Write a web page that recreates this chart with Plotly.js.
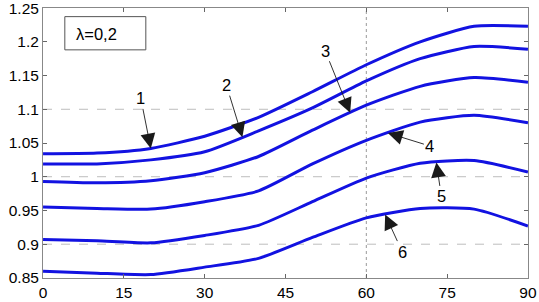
<!DOCTYPE html>
<html>
<head>
<meta charset="utf-8">
<script src="https://cdn.plot.ly/plotly-3.0.1.min.js"></script>
<style>
html,body{margin:0;padding:0;background:#fff;}
#chart{width:539px;height:302px;}
</style>
</head>
<body>
<div id="chart"></div>
<script>
// Data
const angles = [0, 10, 20, 30, 40, 50, 60, 70, 80, 90];
const curve1 = [1.034, 1.035, 1.042, 1.060, 1.088, 1.126, 1.166, 1.200, 1.223, 1.223];
const curve2 = [1.019, 1.019, 1.025, 1.037, 1.068, 1.102, 1.142, 1.175, 1.193, 1.189];
const curve3 = [0.993, 0.991, 0.994, 1.006, 1.030, 1.069, 1.106, 1.134, 1.147, 1.140];
const curve4 = [0.955, 0.953, 0.952, 0.963, 0.979, 1.019, 1.054, 1.081, 1.091, 1.080];
const curve5 = [0.907, 0.905, 0.902, 0.913, 0.928, 0.963, 0.998, 1.020, 1.024, 1.007];
const curve6 = [0.860, 0.857, 0.855, 0.866, 0.879, 0.910, 0.939, 0.953, 0.952, 0.927];
const curveLabels = ["1", "2", "3", "4", "5", "6"];
const xTicks = [0, 15, 30, 45, 60, 75, 90];
const yTicks = [0.85, 0.9, 0.95, 1.0, 1.05, 1.1, 1.15, 1.2, 1.25];
const yTickText = ["0.85", "0.9", "0.95", "1", "1.05", "1.1", "1.15", "1.2", "1.25"];
const gridY = [0.9, 1.0, 1.1];
const gridX = [60];
const boxText = "λ=0,2";

// Label placement (where each arrow touches its curve, and the label offset in px)
const labelTipX = [20, 37, 57, 64, 73, 63.5];
const labelAx = [-10, -16, -25, 42, 5, 17];
const labelAy = [-50, -52, -62, 13, 34, 37];

const curves = [curve1, curve2, curve3, curve4, curve5, curve6];
const blue = "rgb(18,18,225)";
const font = {family: "Liberation Sans, Arial, sans-serif", size: 16.5, color: "#000"};
const tickFont = {family: "Liberation Sans, Arial, sans-serif", size: 15.5, color: "#000"};

function interp(xs, ys, x) {
  for (let i = 0; i < xs.length - 1; i++) {
    if (x >= xs[i] && x <= xs[i + 1]) {
      const t = (x - xs[i]) / (xs[i + 1] - xs[i]);
      return ys[i] + t * (ys[i + 1] - ys[i]);
    }
  }
  return ys[ys.length - 1];
}

const traces = curves.map((c, i) => ({
  x: angles, y: c, type: "scatter", mode: "lines",
  line: {color: blue, width: 3, shape: "spline", smoothing: 0.6},
  name: curveLabels[i], hoverinfo: "skip"
}));

const annotations = curves.map((c, i) => ({
  x: labelTipX[i], y: interp(angles, c, labelTipX[i]),
  xref: "x", yref: "y", text: curveLabels[i],
  showarrow: true, arrowhead: 2, arrowsize: 3.3, arrowwidth: 0.9,
  arrowcolor: "#1a1a1a", ax: labelAx[i], ay: labelAy[i], standoff: 0,
  font: font
}));
annotations.push({
  x: 0.064, y: 0.905, xref: "paper", yref: "paper", xanchor: "left", yanchor: "middle",
  text: boxText, showarrow: false, font: font
});

const shapes = [];
gridY.forEach(v => shapes.push({
  type: "line", xref: "paper", yref: "y", x0: 0, x1: 1, y0: v, y1: v,
  line: {color: "#bdbdbd", width: 1, dash: "dash"}, layer: "below"
}));
gridX.forEach(v => shapes.push({
  type: "line", xref: "x", yref: "paper", x0: v, x1: v, y0: 0, y1: 1,
  line: {color: "#9a9a9a", width: 1, dash: "dot"}, layer: "below"
}));
shapes.push({
  type: "rect", xref: "paper", yref: "paper", x0: 0.045, x1: 0.212, y0: 0.845, y1: 0.968,
  line: {color: "#555", width: 1}, fillcolor: "rgba(0,0,0,0)"
});

const layout = {
  width: 539, height: 302,
  margin: {l: 43, r: 11, t: 8, b: 24},
  paper_bgcolor: "#fff", plot_bgcolor: "#fff",
  showlegend: false,
  font: font,
  xaxis: {
    range: [-0.01, 90.01], tickvals: xTicks, ticktext: xTicks.map(String),
    ticks: "inside", ticklen: 4, tickcolor: "#666", showgrid: false, zeroline: false,
    showline: true, linecolor: "#888", linewidth: 1, mirror: "ticks",
    tickfont: tickFont, ticklabelstandoff: 0, ticklabeloverflow: "allow"
  },
  yaxis: {
    range: [0.8499, 1.2501], tickvals: yTicks, ticktext: yTickText,
    ticks: "inside", ticklen: 4, tickcolor: "#666", showgrid: false, zeroline: false,
    showline: true, linecolor: "#888", linewidth: 1, mirror: "ticks",
    tickfont: tickFont, ticklabeloverflow: "allow"
  },
  shapes: shapes,
  annotations: annotations
};

Plotly.newPlot("chart", traces, layout, {displayModeBar: false, staticPlot: true});
</script>
</body>
</html>
